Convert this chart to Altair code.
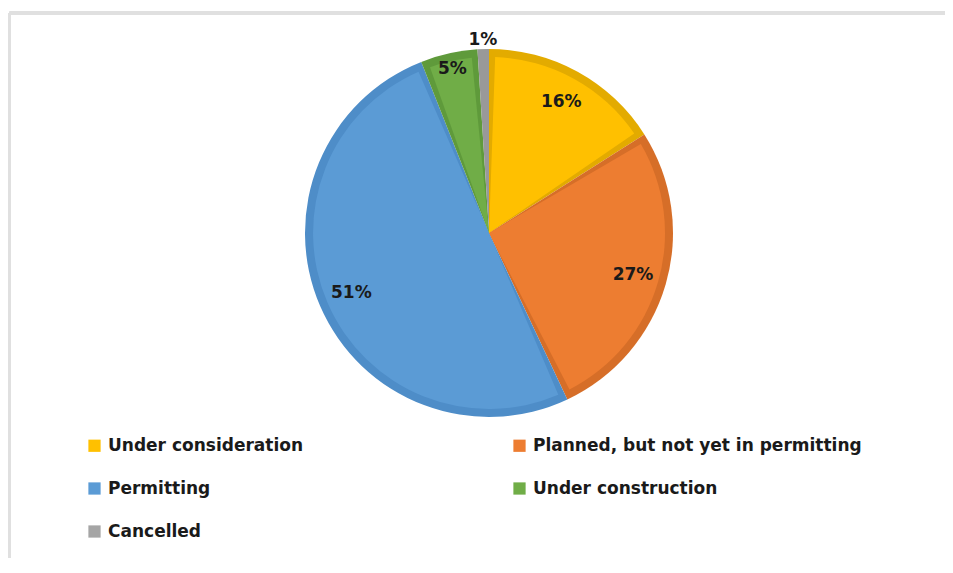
import altair as alt
import pandas as pd

categories = ["Under consideration", "Planned, but not yet in permitting",
              "Permitting", "Under construction", "Cancelled"]
shares = [16, 27, 51, 5, 1]
fill_colors = ["#FFC000", "#ED7D31", "#5B9BD5", "#70AD47", "#A5A5A5"]
edge_colors = ["#E3AB00", "#D66E28", "#4E8DC8", "#5F9A3B", "#999999"]
share_labels = ["16%", "27%", "51%", "5%", "1%"]

df = pd.DataFrame({
    "category": categories,
    "share": shares,
    "label": share_labels,
    "order": list(range(len(categories))),
})

FONT = "DejaVu Sans"
CX, CY, R = 479.5, 220, 184

base = alt.Chart(df).encode(
    theta=alt.Theta("share:Q", stack=True),
    order=alt.Order("order:Q"),
    x=alt.value(CX),
    y=alt.value(CY),
)

edge = base.mark_arc(outerRadius=R).encode(
    color=alt.Color("category:N", sort=categories,
                    scale=alt.Scale(domain=categories, range=edge_colors),
                    legend=None)
)

inner = base.mark_arc(outerRadius=R - 8, padAngle=0.07).encode(
    fill=alt.Fill("category:N", sort=categories,
                  scale=alt.Scale(domain=categories, range=fill_colors),
                  legend=alt.Legend(
                      title=None, orient="none", legendX=76.5, legendY=424,
                      columns=2, direction="horizontal",
                      symbolType="square", symbolSize=150, symbolStrokeWidth=0,
                      labelFont=FONT, labelFontSize=17, labelFontWeight="bold",
                      labelColor="#1a1a1a", labelLimit=400,
                      columnPadding=207, rowPadding=25, padding=0,
                      symbolOffset=0, labelOffset=5,
                  ))
)

labels = alt.Chart(df).transform_window(
    cum="sum(share)", sort=[alt.SortField("order")], frame=[None, 0]
).transform_calculate(
    mid="datum.cum - datum.share / 2",
    lr="datum.share >= 10 ? 150 : (datum.share >= 3 ? 168 : 193)",
).mark_text(font=FONT, fontSize=17, fontWeight="bold", color="#1a1a1a").encode(
    theta=alt.Theta("mid:Q", stack=None),
    radius=alt.Radius("lr:Q", scale=None),
    text="label:N",
    x=alt.value(CX),
    y=alt.value(CY),
)

frame_left = alt.Chart(df).mark_rule(color="#e0e0e0", strokeWidth=3).encode(
    x=alt.value(0), y=alt.value(0), y2=alt.value(600)
)
frame_top = alt.Chart(df).mark_rule(color="#e0e0e0", strokeWidth=3).encode(
    x=alt.value(0), x2=alt.value(960), y=alt.value(0)
)

chart = alt.layer(frame_left, frame_top, edge, inner, labels).resolve_scale(
    color="independent", fill="independent"
).properties(
    width=935, height=545,
    background="white",
    autosize=alt.AutoSizeParams(type="none"),
    padding={"left": 1.5, "top": 5, "right": 0, "bottom": 0},
).configure_view(stroke="transparent")

chart.save("out.html", embed_options={"renderer": "svg", "actions": False})
